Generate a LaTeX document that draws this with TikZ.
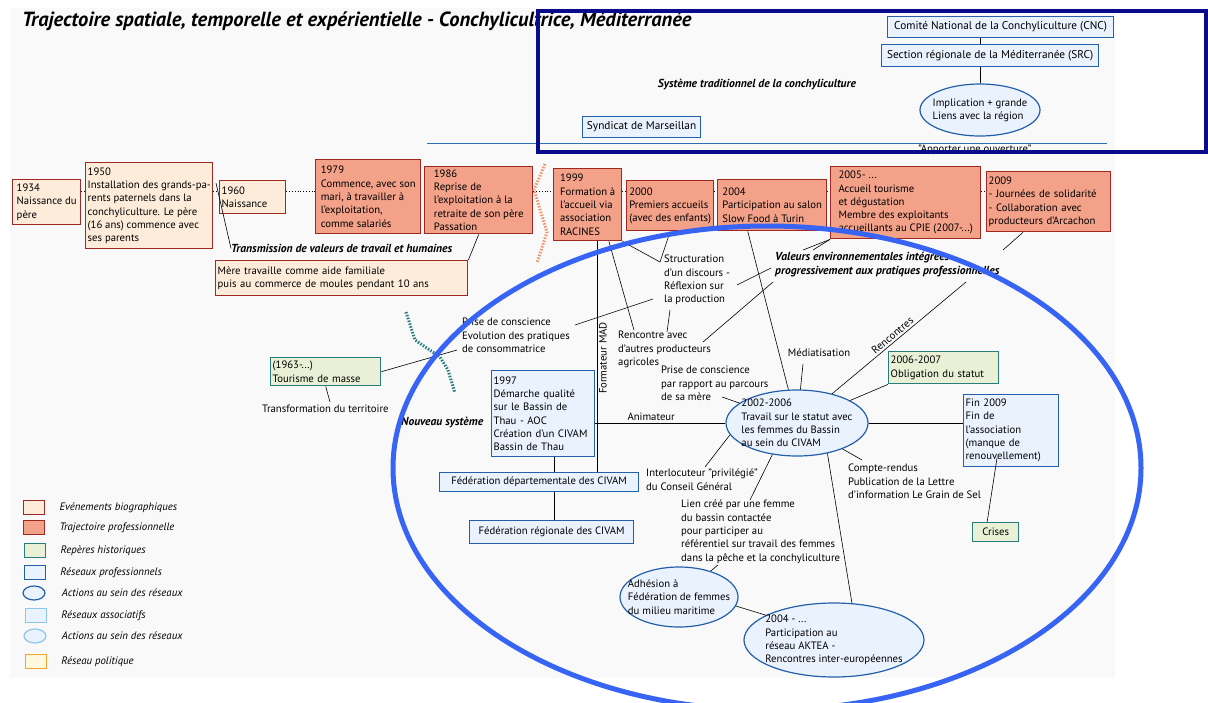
\documentclass[tikz,border=0pt]{standalone}
\usepackage{fontspec}
\setmainfont{PT Sans}
\usetikzlibrary{positioning,shapes.geometric}

\definecolor{biored}{RGB}{160,40,35}
\definecolor{biofill}{RGB}{253,236,218}
\definecolor{profill}{RGB}{243,161,137}
\definecolor{histteal}{RGB}{40,125,125}
\definecolor{histfill}{RGB}{233,240,214}
\definecolor{resblue}{RGB}{35,95,170}
\definecolor{resfill}{RGB}{234,242,253}
\definecolor{assoblue}{RGB}{140,200,235}
\definecolor{polorange}{RGB}{240,165,50}
\definecolor{polfill}{RGB}{255,248,220}
\definecolor{bigblue}{RGB}{55,100,245}
\definecolor{navyframe}{RGB}{10,10,140}
\definecolor{lineblue}{RGB}{45,110,180}
\definecolor{dashorange}{RGB}{240,150,110}
\definecolor{bggrey}{RGB}{249,249,250}

\begin{document}
\begin{tikzpicture}[x=1pt, y=-1pt, font=\fontsize{10.7}{13.3}\selectfont]
\tikzstyle{bio}=[draw=biored,fill=biofill,line width=1.4pt,anchor=north west,align=left,inner xsep=2pt,inner ysep=1pt]
\tikzstyle{pro}=[bio,fill=profill]
\tikzstyle{hist}=[bio,draw=histteal,fill=histfill]
\tikzstyle{res}=[bio,draw=resblue,fill=resfill,line width=1.2pt]
\tikzstyle{act}=[ellipse,draw=resblue,fill=resfill,line width=1.2pt,align=left,inner xsep=-20pt,inner ysep=-10pt]
\tikzstyle{lbl}=[anchor=north west,align=left,inner sep=0pt]
\tikzstyle{bilbl}=[lbl,font=\fontsize{11.6}{14}\selectfont\bfseries\itshape]
\tikzstyle{grand}=[font=\fontsize{11.3}{13.3}\selectfont]
\tikzstyle{lgtxt}=[inner sep=0pt,font=\fontsize{10.8}{12}\selectfont\itshape]
\tikzstyle{tline}=[draw,black,dotted,line width=0.8pt]
\tikzstyle{every edge}=[draw,black,line width=0.6pt]

\useasboundingbox (0,0) rectangle (1208,702);
\fill[white] (0,0) rectangle (1208,702);
\fill[bggrey] (10,8) rectangle (1115,678);

\node[lbl,anchor=west,font=\fontsize{20.5}{24}\selectfont\bfseries\itshape] (titre) at (22,21) {Trajectoire spatiale, temporelle et expérientielle - Conchylicultrice, Méditerranée};

% systeme traditionnel
\node[res,grand,align=center,minimum width=226pt,minimum height=21pt] (cnc) at (887,16) {Comité National de la Conchyliculture (CNC)};
\node[res,grand,align=center,minimum width=217pt,minimum height=22pt] (src) at (881,44) {Section régionale de la Méditerranée (SRC)};
\node[act,minimum width=120pt,minimum height=52pt] (impl) at (980,110) {Implication + grande\\Liens avec la région};
\node[res,grand,align=center,minimum width=118pt,minimum height=21pt] (synd) at (582,116) {Syndicat de Marseillan};
\node[bilbl,anchor=center] (systrad) at (757,85) {Système traditionnel de la conchyliculture};
\node[lbl,anchor=center] (ouvert) at (975,150) {"Apporter une ouverture"};

\draw[lineblue,line width=1pt] (427,143) -- (1107,143);
\draw[navyframe,line width=4pt] (538,11) rectangle (1206,152);

% trajectoire
\node[bio,minimum width=68pt,minimum height=45pt]  (b1934) at (12,179)  {1934\\Naissance du\\père};
\node[bio,minimum width=127pt,minimum height=86pt] (b1950) at (85,162)  {1950\\Installation des grands-pa-\\rents paternels dans la\\conchyliculture. Le père\\(16 ans) commence avec\\ses parents};
\node[bio,text width=62pt,minimum height=33pt]     (b1960) at (219,180) {1960\\Naissance};
\node[pro,minimum width=105pt,minimum height=74pt] (b1979) at (315,159) {1979\\Commence, avec son\\mari, à travailler à\\l'exploitation,\\comme salariés};
\node[pro,minimum width=108pt,minimum height=67pt] (b1986) at (424,166) {1986\\Reprise de\\l'exploitation à la\\retraite de son père\\Passation};
\node[pro,minimum width=68pt,minimum height=72pt]  (b1999) at (553,168) {1999\\Formation à\\l'accueil via\\association\\RACINES};
\node[pro,minimum width=87pt,minimum height=50pt]  (b2000) at (626,180) {2000\\Premiers accueils\\(avec des enfants)};
\node[pro,minimum width=109pt,minimum height=51pt] (b2004) at (717,179) {2004\\Participation au salon\\Slow Food à Turin};
\node[pro,minimum width=150pt,minimum height=72pt] (b2005) at (830,166) {2005- ...\\Accueil tourisme\\et dégustation\\Membre des exploitants\\accueillants au CPIE (2007-...)};
\node[pro,text width=120pt,minimum height=60pt]    (b2009) at (986,171) {2009\\- Journées de solidarité\\- Collaboration avec\\producteurs d'Arcachon};
\node[bio,text width=248pt,minimum height=35pt]    (mere)  at (215,260) {Mère travaille comme aide familiale\\puis au commerce de moules pendant 10 ans};

% reperes historiques
\node[hist,text width=106pt,minimum height=28pt] (tour)   at (270,357) {(1963-...)\\Tourisme de masse};
\node[hist,text width=106pt,minimum height=32pt] (b0607)  at (888,351) {2006-2007\\Obligation du statut};
\node[hist,align=center,minimum width=46pt,minimum height=19pt] (crises) at (972,522) {Crises};

% nouveau systeme
\node[res,text width=99pt,minimum height=86pt] (b1997) at (491,370) {1997\\Démarche qualité\\sur le Bassin de\\Thau - AOC\\Création d'un CIVAM\\Bassin de Thau};
\node[res,align=center,minimum width=199pt,minimum height=19pt] (fdep) at (439,472) {Fédération départementale des CIVAM};
\node[res,align=center,minimum width=164pt,minimum height=23pt] (freg) at (469,520) {Fédération régionale des CIVAM};
\node[res,text width=91pt,minimum height=72pt] (fin) at (963,394) {Fin 2009\\Fin de\\l'association\\(manque de\\renouvellement)};
\node[act,minimum width=142pt,minimum height=66pt] (statut) at (797,423) {2002-2006\\Travail sur le statut avec\\les femmes du Bassin\\au sein du CIVAM};
\node[act,minimum width=118pt,minimum height=60pt] (adh)    at (679,597) {Adhésion à\\Fédération de femmes\\du milieu maritime};
\node[act,minimum width=180pt,minimum height=74pt] (aktea)  at (834,640) {2004 - ...\\Participation au\\réseau AKTEA -\\Rencontres inter-européennes};

% textes
\node[bilbl] (transm)   at (231,244) {Transmission de valeurs de travail et humaines};
\node[lbl]   (struct)   at (664,255) {Structuration\\d'un discours -\\Réflexion sur\\la production};
\node[lbl]   (prise1)   at (462,318) {Prise de conscience\\Evolution des pratiques\\de consommatrice};
\node[lbl]   (renc)     at (618,331) {Rencontre avec\\d'autres producteurs\\agricoles};
\node[bilbl] (valeurs)  at (775,252) {Valeurs environnementales intégrées\\progressivement aux pratiques professionnelles};
\node[lbl]   (transf)   at (262,405) {Transformation du territoire};
\node[bilbl] (nouveau)  at (401,417) {Nouveau système};
\node[lbl,anchor=center] (mediat) at (819,353) {Médiatisation};
\node[lbl]   (prise2)   at (661,366) {Prise de conscience\\par rapport au parcours\\de sa mère};
\node[lbl]   (compte)   at (848,464) {Compte-rendus\\Publication de la Lettre\\d'information Le Grain de Sel};
\node[lbl]   (interloc) at (646,469) {Interlocuteur "privilégié"\\du Conseil Général};
\node[lbl]   (lien)     at (681,500) {Lien créé par une femme\\du bassin contactée\\pour participer au\\référentiel sur travail des femmes\\dans la pêche et la conchyliculture};
\node[lbl,anchor=center,rotate=90] (fmad) at (603,358) {Formateur MAD};

% legende
\node[bio,minimum width=21pt,minimum height=14pt,inner sep=0pt]  (leg1) at (23,500) {};
\node[pro,minimum width=21pt,minimum height=14pt,inner sep=0pt]  (leg2) at (23,520) {};
\node[hist,minimum width=21pt,minimum height=14pt,inner sep=0pt] (leg3) at (24,543) {};
\node[res,minimum width=21pt,minimum height=14pt,inner sep=0pt]  (leg4) at (24,565) {};
\node[act,minimum width=22pt,minimum height=14pt]                (leg5) at (34,593) {};
\node[res,draw=assoblue,minimum width=21pt,minimum height=14pt,inner sep=0pt] (leg6) at (25,608) {};
\node[act,draw=assoblue,minimum width=22pt,minimum height=14pt]  (leg7) at (35,636) {};
\node[res,draw=polorange,fill=polfill,minimum width=21pt,minimum height=14pt,inner sep=0pt] (leg8) at (25,654) {};
\node[lgtxt,right=14pt of leg1] {Evénements biographiques};
\node[lgtxt,right=14pt of leg2] {Trajectoire professionnelle};
\node[lgtxt,right=14pt of leg3] {Repères historiques};
\node[lgtxt,right=14pt of leg4] {Réseaux professionnels};
\node[lgtxt,right=16pt of leg5] {Actions au sein des réseaux};
\node[lgtxt,right=14pt of leg6] {Réseaux associatifs};
\node[lgtxt,right=15pt of leg7] {Actions au sein des réseaux};
\node[lgtxt,right=14pt of leg8] {Réseau politique};

% points d'accroche
\coordinate (tl) at (0,191);
\coordinate (k60) at (216,183);
\coordinate (kstruct) at (660,262);
\coordinate (kstructb) at (653,299);
\coordinate (kprise) at (575,325);
\coordinate (kstructs) at (670,310);
\coordinate (krenct) at (667,332);
\coordinate (krenc) at (634,330);
\coordinate (mad) at (597,0);
\coordinate (fed) at (554,0);
\coordinate (kstructr) at (737,285);
\coordinate (kval1) at (771,268);
\coordinate (krencr) at (703,342);
\coordinate (kval2) at (773,282);
\coordinate (kval3) at (803,250);
\coordinate (kval4) at (813,250);
\coordinate (kval5) at (1003,250);
\coordinate (kval6) at (966,282);
\coordinate (kprise1) at (457,350);
\coordinate (ktransf) at (330,402);
\coordinate (kmed) at (803,364);
\coordinate (kprise2) at (722,397);
\coordinate (kcompte) at (862,460);
\coordinate (kinter) at (705,467);
\coordinate (klien) at (750,500);
\coordinate (klienb) at (718,565);
\coordinate (kfin) at (997,458);

\path[tline]
(b1934.east |- tl) -- (b1950.west |- tl)
(b1950.east |- tl) -- (b1960.west |- tl)
(b1960.east |- tl) -- (b1979.west |- tl)
(b1986.east |- tl) -- (b1999.west |- tl)
(b1999.east |- tl) -- (b2000.west |- tl)
(b2000.east |- tl) -- (b2004.west |- tl)
(b2004.east |- tl) -- (b2005.west |- tl)
(b2005.east |- tl) -- (b2009.west |- tl);

\path
(cnc.south -| impl.north) edge (src.north -| impl.north)
(src.south -| impl.north) edge (impl.north)
(k60) edge (transm.west)
(b1986.south) edge (mere.north east)
(b1999.south east) edge (kstruct)
(b2000.south) edge (kstruct)
(kprise) edge (kstructb)
(kstructs) edge (krenct)
(b1999.-60) edge (krenc)
(b1999.south -| mad) edge (fdep.north -| mad)
(kstructr) edge (kval1)
(krencr) edge (kval2)
(kval3) edge (b2005.south west)
(kval4) edge (b2005.south west)
(b2009.-130) edge (kval5)
(kval6) edge node[sloped,above,pos=0.52,inner sep=2pt] {Rencontres} (statut)
(tour.east) edge (kprise1)
(tour.south) edge (ktransf)
(b1997.east |- statut.west) edge node[above,pos=0.43,inner sep=2pt] {Animateur} (statut.west)
(b1997.south -| fed) edge (fdep.north -| fed)
(fdep.south -| fed) edge (freg.north -| fed)
(b2004.-133) edge (statut)
(kmed) edge (statut)
(kprise2) edge (statut)
(b0607.south west) edge (statut)
(statut.east) edge (fin.west |- statut.east)
(kfin) edge (crises.130)
(statut) edge (kcompte)
(statut.-45) edge (aktea.64)
(statut.190) edge (kinter)
(statut.-128) edge (klien)
(klienb) edge (adh)
(adh.-9) edge (aktea.160);

% limites
\draw[dashorange,line width=3pt,dash pattern=on 1.5pt off 1.5pt] (545,164) -- (534,190) -- (547,232) -- (537,263);
\draw[histteal,line width=3pt,dash pattern=on 1.5pt off 1.5pt] (406,312) -- (415,340) -- (440,357) -- (448,370) -- (455,393);
\draw[bigblue,line width=5pt] (767,468) ellipse [x radius=374pt,y radius=242pt];
\end{tikzpicture}
\end{document}
